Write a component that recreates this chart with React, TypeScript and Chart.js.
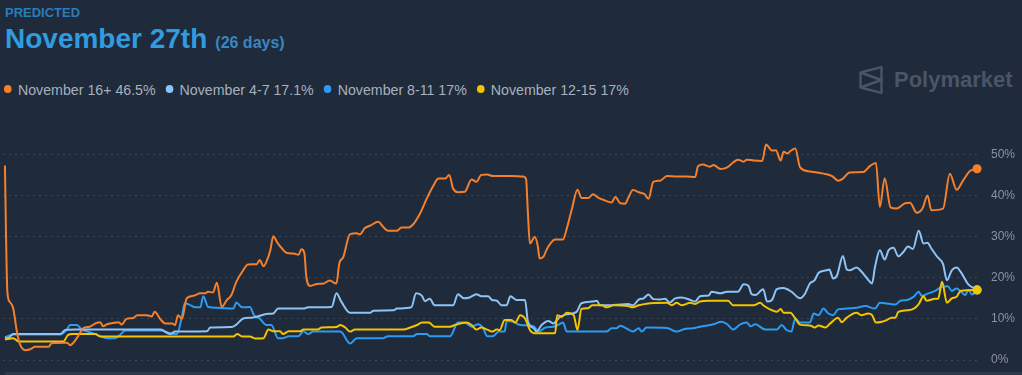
import React, { useEffect, useRef } from "react";
import { Chart, registerables } from "chart.js";

Chart.register(...registerables);

// time axis: 0..100 = share of the displayed time window
const nov16Plus: [number, number][] = [
  [0, 47.3], [0.1, 32], [0.25, 16.5], [0.5, 14.1], [0.85, 12.6], [1.2, 7.3], [1.5, 4.1], [2.1, 2.4], [2.6, 2.6], [3.1, 3.2],
  [4.5, 3.2], [4.8, 4.1], [6.4, 4.2], [6.7, 3.6], [7.0, 4.1], [7.5, 5.7], [8.1, 7.8], [8.7, 8.1], [9.4, 9.0], [9.8, 9.2],
  [10.1, 8.2], [10.5, 8.7], [11.1, 9.0], [11.7, 9.2], [12.0, 8.6], [12.5, 10.0], [13.2, 10.2], [13.6, 10.9], [14.6, 10.9], [15.1, 10.6],
  [15.4, 11.7], [16.0, 9.9], [16.5, 8.9], [17.2, 8.9], [17.5, 8.5], [17.8, 10.9], [18.2, 10.0], [18.7, 15.0], [19.4, 15.6], [20.1, 16.2],
  [20.6, 16.2], [20.9, 16.6], [21.4, 16.4], [21.8, 18.8], [22.3, 12.9], [22.8, 14.5], [23.3, 15.8], [23.8, 19.0], [24.4, 21.4], [25.0, 23.2],
  [25.9, 23.3], [26.2, 24.3], [26.6, 22.8], [26.9, 23.9], [27.3, 26.7], [27.6, 30.1], [28.0, 28.6], [28.5, 27.1], [29.0, 26.0], [29.7, 25.9],
  [30.2, 25.6], [30.5, 26.9], [30.8, 26.0], [31.0, 20.3], [31.4, 18.0], [32.1, 18.5], [32.8, 18.6], [33.4, 19.3], [34.1, 18.6], [34.4, 23.5],
  [34.8, 25.0], [35.5, 30.6], [36.2, 30.8], [36.5, 30.5], [37.0, 32.0], [37.6, 32.7], [38.4, 33.6], [38.9, 32.4], [39.4, 31.4], [40.3, 31.4],
  [40.8, 32.2], [41.5, 32.2], [42.0, 33.0], [42.7, 35.6], [43.4, 39.3], [44.1, 42.5], [44.6, 44.1], [45.3, 44.1], [45.7, 45.0], [46.1, 41.7],
  [46.6, 40.8], [47.3, 40.9], [48.0, 43.9], [48.5, 43.3], [49.0, 45.0], [49.6, 45.1], [50.2, 44.7], [52.0, 44.7], [53.3, 44.6], [53.6, 44.1],
  [53.8, 35.6], [54.0, 28.3], [54.5, 29.9], [54.8, 27.9], [55.0, 24.7], [55.4, 25.1], [55.7, 26.7], [56.1, 28.3], [56.6, 29.3], [57.4, 29.3],
  [57.8, 32.0], [58.3, 36.5], [58.9, 41.4], [59.3, 39.4], [60.0, 39.4], [60.5, 40.3], [61.0, 39.5], [61.7, 38.8], [62.4, 38.3], [62.8, 39.6],
  [63.3, 38.1], [63.8, 38.0], [64.1, 39.3], [64.6, 41.3], [65.3, 40.7], [65.8, 40.3], [66.2, 39.2], [66.7, 43.3], [67.4, 43.6], [68.1, 44.7],
  [69.1, 44.6], [70.1, 44.6], [71.0, 44.5], [71.3, 47.1], [71.8, 47.5], [72.5, 47.0], [72.9, 47.4], [73.6, 46.4], [74.3, 46.8], [74.9, 48.0],
  [75.4, 48.7], [76.0, 48.2], [76.3, 48.7], [77.0, 48.5], [77.9, 48.4], [78.3, 52.4], [78.9, 50.9], [79.3, 51.0], [79.8, 48.5], [80.1, 50.6],
  [80.5, 50.2], [80.8, 50.8], [81.3, 51.4], [81.8, 46.8], [82.8, 45.8], [84.2, 45.3], [85.1, 44.7], [85.7, 43.6], [86.2, 44.1], [86.9, 45.6],
  [88.3, 45.7], [89.0, 47.2], [89.6, 47.9], [90.0, 37.2], [90.5, 44.2], [91.1, 37.1], [91.7, 36.8], [92.6, 38.1], [93.1, 38.2], [93.8, 35.8],
  [94.4, 36.9], [94.9, 40.0], [95.3, 36.4], [96.5, 36.8], [97.2, 45.3], [97.9, 41.4], [98.6, 43.8], [99.3, 46.0], [100, 46.5],
];

const nov4to7: [number, number][] = [
  [0, 5.5], [0.3, 5.3], [0.85, 6.3], [5.7, 6.3], [6.2, 7.3], [7.4, 7.4], [16.0, 7.4], [17.0, 6.3], [17.5, 6.9], [20.8, 7.0],
  [21.1, 7.9], [23.3, 8.0], [23.8, 8.6], [24.5, 10.1], [25.4, 10.3], [25.9, 10.5], [26.9, 11.2], [27.6, 11.3], [28.1, 12.5], [30.7, 12.5],
  [31.2, 12.8], [33.6, 12.9], [34.1, 16.2], [34.6, 14.2], [35.5, 11.5], [37.6, 11.5], [37.9, 12.0], [40.0, 12.1], [40.3, 12.5], [41.8, 12.8],
  [42.3, 16.2], [42.9, 15.6], [43.2, 14.3], [43.7, 14.9], [44.2, 13.3], [46.1, 13.3], [46.6, 16.0], [47.2, 15.0], [47.8, 15.2], [48.5, 16.0],
  [49.0, 15.5], [49.7, 15.5], [50.1, 14.6], [50.6, 14.4], [51.1, 13.3], [51.6, 13.3], [52.0, 15.5], [52.6, 14.6], [53.5, 14.6], [53.8, 9.3],
  [54.4, 7.7], [54.7, 6.9], [55.2, 8.5], [55.9, 9.5], [56.4, 8.9], [57.1, 10.5], [57.8, 11.1], [58.8, 11.7], [59.3, 13.8], [60.4, 14.2],
  [60.9, 14.4], [61.2, 13.3], [62.4, 13.3], [63.3, 13.5], [64.1, 13.6], [64.6, 13.3], [65.2, 14.7], [65.7, 15.0], [66.2, 15.9], [66.7, 14.8],
  [67.4, 14.7], [67.9, 14.9], [68.4, 14.0], [68.9, 14.9], [69.6, 15.2], [70.5, 14.6], [71.0, 14.2], [71.5, 15.5], [72.4, 15.7], [72.7, 16.6],
  [73.6, 16.2], [74.3, 16.6], [75.4, 16.6], [76.0, 18.4], [76.5, 18.0], [76.8, 16.0], [77.2, 15.8], [78.0, 17.2], [78.4, 14.2], [78.9, 14.6],
  [79.4, 17.2], [80.1, 17.5], [80.9, 16.6], [81.8, 15.0], [82.3, 16.1], [82.8, 18.6], [83.3, 19.4], [83.7, 21.2], [84.5, 21.8], [84.8, 22.0],
  [85.2, 19.8], [85.6, 20.6], [86.2, 25.3], [86.6, 22.0], [86.9, 21.8], [87.6, 22.5], [88.1, 21.5], [88.7, 19.8], [89.2, 18.6], [89.5, 22.6],
  [90.0, 26.7], [90.5, 24.4], [90.9, 26.7], [91.4, 27.3], [91.9, 25.2], [92.4, 26.2], [92.9, 27.6], [93.4, 27.0], [94.0, 31.4], [94.5, 28.3],
  [94.9, 28.5], [95.3, 27.1], [95.9, 25.1], [96.5, 23.3], [96.9, 19.4], [97.4, 21.8], [97.9, 22.5], [98.4, 21.1], [99.1, 18.4], [100, 17.1],
];

const nov8to11: [number, number][] = [
  [0, 5.5], [0.85, 6.2], [5.7, 6.2], [6.4, 7.5], [6.7, 8.5], [7.4, 8.5], [7.9, 7.4], [8.4, 7.0], [9.3, 6.3], [10.5, 5.3],
  [11.3, 5.3], [11.7, 5.8], [12.4, 7.2], [16.0, 7.2], [17.0, 6.5], [17.7, 6.3], [18.2, 10.5], [18.5, 13.8], [19.0, 13.4], [19.6, 12.8],
  [20.1, 12.8], [20.4, 15.5], [20.9, 12.9], [21.8, 12.7], [23.5, 12.5], [23.8, 14.0], [24.4, 12.8], [25.2, 12.9], [25.6, 11.0], [26.2, 10.1],
  [26.9, 8.5], [27.4, 8.5], [28.1, 5.3], [28.6, 5.3], [29.2, 5.8], [30.2, 5.8], [30.7, 7.0], [31.2, 6.3], [31.7, 6.9], [34.5, 6.9],
  [35.5, 4.0], [36.2, 5.3], [38.9, 5.3], [39.4, 5.8], [42.0, 5.8], [42.4, 6.3], [43.4, 6.3], [43.7, 5.8], [45.8, 5.8], [46.6, 9.1],
  [47.3, 9.1], [48.0, 8.1], [48.7, 8.7], [49.2, 7.7], [49.6, 5.8], [50.2, 5.8], [50.8, 6.9], [51.4, 6.9], [51.6, 9.5], [52.3, 9.3],
  [53.0, 8.5], [54.4, 8.2], [54.9, 6.9], [55.6, 7.9], [56.4, 8.1], [56.9, 8.5], [57.4, 9.1], [57.8, 6.9], [61.9, 6.9], [62.4, 7.7],
  [62.9, 7.7], [63.3, 8.3], [64.0, 7.6], [64.6, 6.9], [65.2, 7.7], [65.5, 6.9], [66.0, 7.9], [68.1, 7.8], [69.1, 6.9], [70.0, 7.6],
  [70.8, 7.7], [71.5, 8.1], [72.9, 8.7], [73.7, 9.3], [74.3, 8.7], [74.9, 7.4], [75.6, 8.6], [76.3, 9.1], [76.7, 8.2], [77.2, 8.7],
  [78.2, 7.4], [79.4, 7.4], [79.9, 8.5], [80.4, 7.3], [80.9, 6.9], [81.3, 10.1], [81.8, 9.1], [82.8, 9.1], [83.2, 11.3], [83.7, 10.9],
  [84.2, 12.5], [84.7, 11.3], [85.2, 10.9], [85.7, 12.3], [86.6, 12.5], [87.6, 12.7], [88.5, 13.1], [89.5, 12.5], [90.0, 13.9], [91.1, 13.6],
  [91.6, 13.5], [92.1, 14.4], [92.8, 14.6], [93.5, 15.4], [94.0, 16.6], [94.3, 15.6], [95.0, 16.2], [95.7, 16.8], [96.4, 17.8], [97.0, 17.9],
  [97.4, 16.8], [97.9, 17.4], [98.8, 15.8], [99.1, 17.1], [99.5, 15.9], [100, 17.0],
];

const nov12to15: [number, number][] = [
  [0, 5.0], [0.85, 5.3], [1.4, 4.5], [6.0, 4.5], [6.5, 6.1], [6.9, 6.3], [9.3, 6.3], [9.8, 5.7], [23.5, 5.7], [23.9, 6.3],
  [24.4, 5.7], [25.2, 5.7], [25.8, 5.2], [26.6, 5.3], [27.1, 7.4], [27.6, 7.0], [28.3, 7.0], [28.6, 6.3], [29.2, 7.0], [30.4, 7.0],
  [30.7, 7.4], [32.1, 7.4], [32.6, 7.9], [34.1, 8.0], [34.5, 8.5], [35.0, 7.9], [35.5, 6.9], [36.0, 7.4], [41.0, 7.4], [41.7, 7.9],
  [42.4, 8.5], [42.9, 9.1], [43.6, 9.1], [44.2, 8.1], [45.8, 8.1], [46.3, 8.5], [47.5, 9.1], [48.0, 8.5], [48.5, 7.4], [49.0, 7.9],
  [49.6, 7.4], [50.1, 6.9], [50.6, 7.4], [50.9, 7.3], [51.4, 9.7], [52.1, 9.7], [52.5, 9.1], [53.0, 10.9], [53.5, 10.1], [54.0, 7.3],
  [54.5, 6.5], [56.6, 6.5], [56.8, 10.9], [57.3, 10.5], [57.8, 11.5], [58.5, 10.9], [58.9, 7.3], [59.3, 12.4], [60.0, 12.6], [60.4, 13.3],
  [61.4, 13.3], [61.9, 12.8], [62.6, 13.3], [64.1, 13.1], [64.6, 12.8], [65.2, 13.3], [66.0, 13.7], [68.1, 13.9], [68.6, 13.3], [69.1, 13.9],
  [69.6, 13.3], [70.5, 13.9], [71.0, 13.6], [71.5, 14.2], [72.4, 14.4], [74.4, 14.4], [74.9, 13.3], [77.0, 13.3], [77.7, 13.9], [78.0, 13.3],
  [78.7, 12.3], [79.4, 11.7], [79.8, 12.4], [80.1, 11.5], [80.8, 11.5], [81.3, 10.1], [81.8, 8.6], [82.8, 8.4], [83.3, 7.9], [83.7, 8.4],
  [84.4, 7.9], [84.9, 8.9], [85.7, 10.3], [86.1, 9.2], [86.6, 10.3], [87.6, 11.5], [88.1, 10.9], [88.8, 11.3], [89.2, 10.9], [89.6, 9.1],
  [90.2, 9.3], [90.7, 9.7], [91.2, 10.3], [91.6, 10.3], [91.9, 11.7], [92.8, 12.1], [93.5, 12.5], [94.0, 13.6], [94.5, 15.5], [94.8, 14.4],
  [95.7, 14.9], [96.0, 14.9], [96.4, 19.0], [96.9, 13.9], [97.4, 15.0], [97.9, 15.4], [98.3, 16.8], [100, 17.0],
];

const seriesNames = ["November 16+", "November 4-7", "November 8-11", "November 12-15"];
const seriesLatest = ["46.5%", "17.1%", "17%", "17%"];
const seriesColors = ["#f5802c", "#8ec4f5", "#2d9bf0", "#f5c400"];
const yTicks = [0, 10, 20, 30, 40, 50];

const BG = "#1f2a3b";

export default function App() {
  const canvasRef = useRef<HTMLCanvasElement | null>(null);

  useEffect(() => {
    const canvas = canvasRef.current;
    if (!canvas) return;
    const all = [nov16Plus, nov4to7, nov8to11, nov12to15];
    // draw order: dataset 0 is painted last (on top)
    const order = [0, 3, 1, 2];
    const datasets = order.map((i) => {
      const pts = all[i];
      const last = pts.length - 1;
      return {
        label: seriesNames[i],
        data: pts.map(([x, y]) => ({ x, y })),
        borderColor: seriesColors[i],
        backgroundColor: seriesColors[i],
        borderWidth: 2,
        cubicInterpolationMode: "monotone" as const,
        pointRadius: (ctx: any) => (ctx.dataIndex === last ? 4.5 : 0),
        pointHoverRadius: 0,
        pointBorderWidth: 0,
        pointBackgroundColor: seriesColors[i],
        clip: 8,
      };
    });
    const chart = new Chart(canvas, {
      type: "line",
      data: { datasets },
      options: {
        animation: false,
        responsive: false,
        devicePixelRatio: 1,
        events: [],
        layout: { autoPadding: false, padding: { left: 3, top: 0, right: 0, bottom: 0 } },
        plugins: { legend: { display: false }, tooltip: { enabled: false }, title: { display: false } },
        scales: {
          x: { type: "linear", min: -0.2, max: 100.2, display: false },
          y: {
            position: "right",
            min: -3.16,
            max: 58.34,
            afterBuildTicks: (scale: any) => {
              scale.ticks = yTicks.map((value) => ({ value }));
            },
            afterFit: (scale: any) => {
              scale.width = 43;
              scale.paddingTop = 0;
              scale.paddingBottom = 0;
            },
            border: { display: false, dash: [2, 4] },
            grid: { color: "#3a4658", lineWidth: 1, drawTicks: false },
            ticks: {
              color: "#8a94a3",
              padding: 12,
              font: { family: "'Liberation Sans', Arial, sans-serif", size: 12 },
              callback: (v: any) => `${v}%`,
            },
          },
        },
      },
    });
    return () => chart.destroy();
  }, []);

  const sans = "'Liberation Sans', Arial, sans-serif";
  const k = 0.946; // legend glyphs are a little narrow

  return (
    <div style={{ position: "fixed", left: 0, top: 0, width: 1022, height: 375, background: BG, overflow: "hidden" }}>
      <div style={{ position: "absolute", left: 5, top: 6, fontFamily: sans, fontSize: 13, lineHeight: "13px", fontWeight: 700, color: "#2a7cbb" }}>
        PREDICTED
      </div>
      <div style={{ position: "absolute", left: 5, top: 25, fontFamily: sans, whiteSpace: "nowrap", lineHeight: "28px" }}>
        <span style={{ fontSize: 28, fontWeight: 700, color: "#2f9ce0" }}>November 27th</span>
        <span style={{ fontSize: 16, fontWeight: 700, color: "#3a86c0", marginLeft: 8 }}>(26 days)</span>
      </div>
      <div
        style={{
          position: "absolute", left: 4, top: 82, display: "flex", alignItems: "center", gap: 10 / k,
          fontFamily: sans, fontSize: 15, lineHeight: "15px", color: "#a7b1bf", whiteSpace: "nowrap",
          transform: `scaleX(${k})`, transformOrigin: "0 0",
        }}
      >
        {seriesNames.map((n, i) => (
          <div key={n} style={{ display: "flex", alignItems: "center" }}>
            <span style={{ width: 8 / k, height: 8, borderRadius: "50%", background: seriesColors[i], marginRight: 6 / k, display: "inline-block", transform: "translateY(-1px)" }} />
            <span>{`${n} ${seriesLatest[i]}`}</span>
          </div>
        ))}
      </div>
      <div style={{ position: "absolute", left: 859, top: 66, display: "flex", alignItems: "center" }}>
        <svg width="24" height="28" viewBox="0 0 24 28">
          <g fill="none" stroke="#4a5567" strokeWidth="2.4" strokeLinejoin="round">
            <path d="M1.5 6.5 L22.5 1.2 L22.5 26.8 L1.5 21.5 Z" />
            <path d="M1.5 6.5 L22.5 14 L1.5 21.5" />
          </g>
        </svg>
        <span style={{ marginLeft: 11, fontFamily: sans, fontSize: 22, fontWeight: 700, color: "#4a5567" }}>Polymarket</span>
      </div>
      <canvas ref={canvasRef} width={1022} height={253} style={{ position: "absolute", left: 0, top: 120, width: 1022, height: 253 }} />
      <div style={{ position: "absolute", left: 5, top: 372, width: 1017, height: 3, background: "#2c3849" }} />
    </div>
  );
}
